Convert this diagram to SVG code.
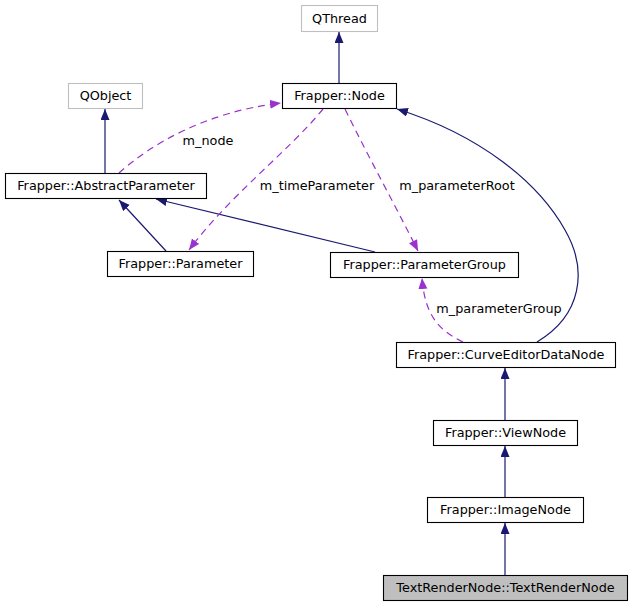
<svg xmlns="http://www.w3.org/2000/svg" width="632" height="605" viewBox="0 0 632 605">
<defs>
<style>
.n rect{fill:#fff;stroke:#000;stroke-width:1.1}
.g rect{fill:#fff;stroke:#bfbfbf;stroke-width:1.1}
.cur rect{fill:#bfbfbf;stroke:#000;stroke-width:1.1}
text{font-family:"DejaVu Sans","Liberation Sans",sans-serif;font-size:12.8px;fill:#000;text-anchor:middle}
.inh{fill:none;stroke:#191970;stroke-width:1.2;marker-end:url(#ah)}
.use{fill:none;stroke:#9a32cd;stroke-width:1.2;stroke-dasharray:7,5;marker-end:url(#ap)}
</style>
<marker id="ah" markerUnits="userSpaceOnUse" markerWidth="12" markerHeight="10" refX="11" refY="4.5" orient="auto"><path d="M0,0 L11,4.5 L0,9 z" fill="#191970"/></marker>
<marker id="ap" markerUnits="userSpaceOnUse" markerWidth="12" markerHeight="10" refX="11" refY="4.5" orient="auto"><path d="M0,0 L11,4.5 L0,9 z" fill="#9a32cd"/></marker>
</defs>
<rect width="632" height="605" fill="#fff"/>
<g id="edges">
<path class="inh" d="M339,83 L339,32"/>
<path class="inh" d="M105,173 L105,109"/>
<path class="inh" d="M166,251 L119,200"/>
<path class="inh" d="M375,252 L156,199"/>
<path class="inh" d="M537,342 C582,315 588,270 565,230 C538,182 480,135 397,109"/>
<path class="inh" d="M505,420 L505,368"/>
<path class="inh" d="M505,497 L505,446"/>
<path class="inh" d="M505,575 L505,523"/>
<path class="use" d="M119,173 C150,145 205,112 281,103"/>
<path class="use" d="M323,109 C290,150 230,195 189,250"/>
<path class="use" d="M345,109 C370,160 395,205 418,251"/>
<path class="use" d="M463,342 C438,330 425,315 422,278"/>
<text x="208" y="145">m_node</text>
<text x="317" y="190">m_timeParameter</text>
<text x="457" y="190">m_parameterRoot</text>
<text x="499" y="313">m_parameterGroup</text>
</g>
<g id="QThread" class="g"><rect x="301.5" y="5.5" width="76" height="26"/><text x="339.5" y="22.5">QThread</text></g>
<g id="Node" class="n"><rect x="282.5" y="83.5" width="114" height="25"/><text x="339.5" y="100">Frapper::Node</text></g>
<g id="QObject" class="g"><rect x="68.5" y="83.5" width="74" height="25"/><text x="105.5" y="100">QObject</text></g>
<g id="AbstractParameter" class="n"><rect x="5.5" y="173.5" width="201" height="25"/><text x="106" y="190">Frapper::AbstractParameter</text></g>
<g id="Parameter" class="n"><rect x="107.5" y="251.5" width="146" height="25"/><text x="180.5" y="268">Frapper::Parameter</text></g>
<g id="ParameterGroup" class="n"><rect x="330.5" y="252.5" width="188" height="25"/><text x="424.5" y="269">Frapper::ParameterGroup</text></g>
<g id="CurveEditorDataNode" class="n"><rect x="396.5" y="342.5" width="219" height="25"/><text x="506" y="359">Frapper::CurveEditorDataNode</text></g>
<g id="ViewNode" class="n"><rect x="433.5" y="420.5" width="144" height="25"/><text x="505.5" y="437">Frapper::ViewNode</text></g>
<g id="ImageNode" class="n"><rect x="427.5" y="497.5" width="156" height="25"/><text x="505.5" y="514">Frapper::ImageNode</text></g>
<g id="TextRenderNode" class="cur"><rect x="383.5" y="575.5" width="244" height="25"/><text x="505.5" y="592">TextRenderNode::TextRenderNode</text></g>
</svg>
